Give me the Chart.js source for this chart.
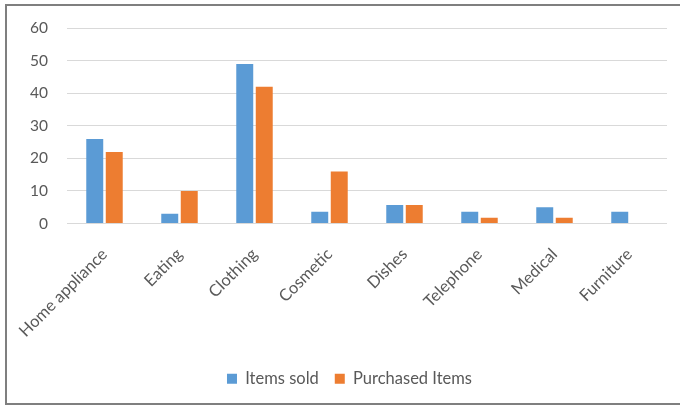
<!DOCTYPE html>
<html>
<head>
<meta charset="utf-8">
<script src="https://cdn.jsdelivr.net/npm/chart.js@4.4.1/dist/chart.umd.min.js"></script>
<style>
  html, body { margin: 0; padding: 0; background: #fff; overflow: hidden; }
  #wrap { position: relative; width: 680px; height: 405px; }
  #frame {
    position: absolute; left: 5px; top: 4px; width: 700px; height: 397px;
    border: 2px solid #7f7f7f; pointer-events: none;
  }
  canvas { position: absolute; left: 0; top: 0; }
</style>
</head>
<body>
<div id="wrap">
  <canvas id="chart" width="680" height="405"></canvas>
  <div id="frame"></div>
</div>
<script>
const categories = ['Home appliance', 'Eating', 'Clothing', 'Cosmetic', 'Dishes', 'Telephone', 'Medical', 'Furniture'];
const itemsSold = [26, 3, 49, 3.6, 5.7, 3.6, 5, 3.6];
const purchasedItems = [22, 10, 42, 16, 5.7, 1.8, 1.8, 0];
const yTicks = [0, 10, 20, 30, 40, 50, 60];

const FONT = 'Lato, "Liberation Sans", sans-serif';
const TEXT = '#595959';

// Centre the legend under the plot area rather than under the whole canvas
const legendShift = {
  id: 'legendShift',
  afterLayout(chart) {
    const lg = chart.legend;
    if (lg) { lg.left += 16; lg.right += 16; }
  }
};

new Chart(document.getElementById('chart'), {
  type: 'bar',
  data: {
    labels: categories,
    datasets: [
      { label: 'Items sold', data: itemsSold, backgroundColor: '#5B9BD5',
        categoryPercentage: 0.52, barPercentage: 0.87 },
      { label: 'Purchased Items', data: purchasedItems, backgroundColor: '#ED7D31',
        categoryPercentage: 0.52, barPercentage: 0.87 }
    ]
  },
  plugins: [legendShift],
  options: {
    responsive: false,
    animation: false,
    events: [],
    layout: { padding: { top: 25, right: 13, left: 0, bottom: 8 } },
    plugins: {
      tooltip: { enabled: false },
      legend: {
        position: 'bottom',
        labels: {
          boxWidth: 10, boxHeight: 10, padding: 16,
          color: TEXT, font: { family: FONT, size: 16.5 }
        }
      }
    },
    scales: {
      x: {
        grid: { display: false },
        border: { display: false },
        ticks: {
          color: TEXT, font: { family: FONT, size: 16.5 },
          maxRotation: 45, minRotation: 45, padding: 13
        },
        afterFit: s => { s.height = 131; }
      },
      y: {
        min: 0, max: 60,
        afterBuildTicks: s => { s.ticks = yTicks.map(v => ({ value: v })); },
        grid: { color: '#d9d9d9', lineWidth: 1, drawTicks: false },
        border: { display: false },
        ticks: { color: TEXT, font: { family: FONT, size: 15.5 }, padding: 19 },
        afterFit: s => { s.width = 67; }
      }
    }
  }
});
</script>
</body>
</html>
